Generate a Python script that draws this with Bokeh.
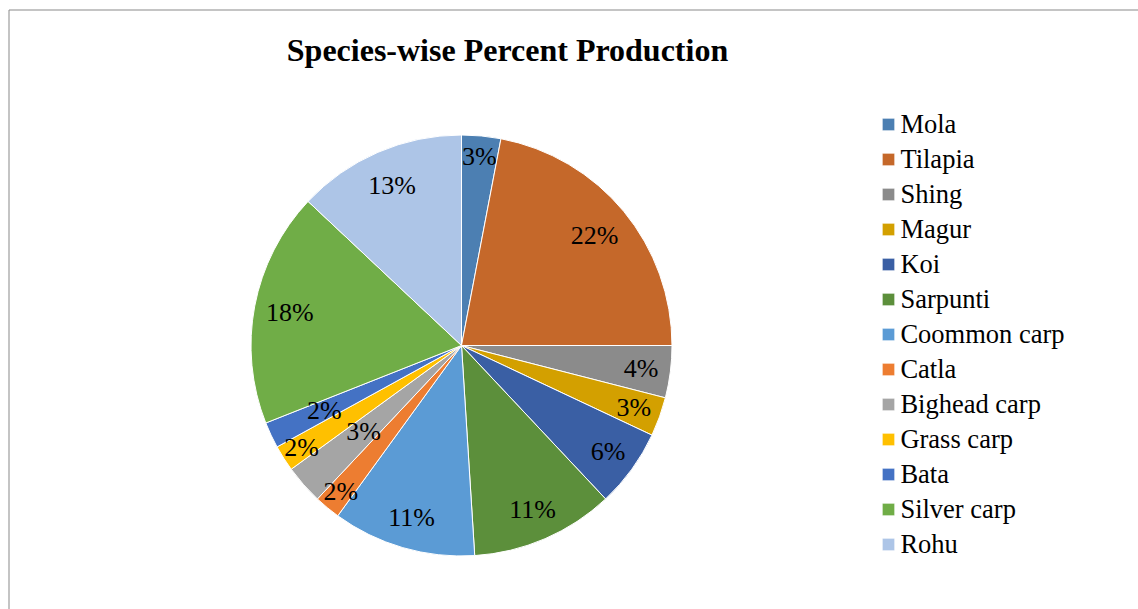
import math

from bokeh.core.properties import value
from bokeh.embed import file_html
from bokeh.models import BoxAnnotation, ColumnDataSource, Label, Range1d
from bokeh.plotting import figure
from bokeh.resources import INLINE

# Species-wise share of total production (percent)
species = [
    "Mola", "Tilapia", "Shing", "Magur", "Koi", "Sarpunti", "Coommon carp",
    "Catla", "Bighead carp", "Grass carp", "Bata", "Silver carp", "Rohu",
]
percent = [3, 22, 4, 3, 6, 11, 11, 2, 3, 2, 2, 18, 13]

colors = [
    "#4c7fb2", "#c5682a", "#8b8b8b", "#d3a000", "#3a5fa4", "#5c8f3b", "#5b9bd5",
    "#ed7d31", "#a5a5a5", "#ffc000", "#4472c4", "#70ad47", "#adc5e7",
]
# how far out (as a share of the radius) each percentage label sits
label_reach = [0.90, 0.82, 0.86, 0.87, 0.86, 0.85, 0.85, 0.90, 0.62, 0.90, 0.72, 0.83, 0.83]

W, H = 1138, 609
CX, CY, R = 461, H - 345, 210.5
SERIF = "Liberation Serif"

total = sum(percent)
start, end, lx, ly, text = [], [], [], [], []
acc = 0.0
for v, f in zip(percent, label_reach):
    a0 = math.pi / 2 - 2 * math.pi * acc / total
    a1 = math.pi / 2 - 2 * math.pi * (acc + v) / total
    mid = (a0 + a1) / 2
    start.append(a0)
    end.append(a1)
    lx.append(CX + f * R * math.cos(mid))
    ly.append(CY + f * R * math.sin(mid))
    text.append(f"{v}%")
    acc += v

src = ColumnDataSource(dict(
    species=species, percent=percent, color=colors,
    start=start, end=end, lx=lx, ly=ly, text=text,
))

p = figure(
    width=W, height=H, x_range=Range1d(0, W), y_range=Range1d(0, H),
    output_backend="svg", toolbar_location=None, min_border=0,
)
p.axis.visible = False
p.grid.visible = False
p.outline_line_color = None
p.background_fill_color = "white"
p.border_fill_color = "white"

# chart-area frame
p.add_layout(BoxAnnotation(
    left=8.5, right=W + 200, bottom=-200, top=H - 9.5,
    fill_color=None, fill_alpha=0, line_color="#898989", line_alpha=1, line_width=1,
))

p.wedge(
    x=CX, y=CY, radius=R, start_angle="start", end_angle="end",
    direction="clock", fill_color="color", line_color="white", line_width=1,
    legend_field="species", source=src,
)

p.text(
    x="lx", y="ly", text="text", source=src,
    text_font=value(SERIF), text_font_size=value("26px"), text_color="black",
    text_align="center", text_baseline="middle",
)

p.add_layout(Label(
    x=507, y=H - 49.8, text="Species-wise Percent Production",
    text_font=SERIF, text_font_size="32px", text_font_style="bold",
    text_color="black", text_align="center", text_baseline="middle",
))

leg = p.legend[0]
leg.location = (880.4, 47.5)
leg.border_line_color = None
leg.background_fill_alpha = 0
leg.padding = 0
leg.margin = 0
leg.spacing = 0
leg.glyph_width = 16
leg.glyph_height = 16
leg.label_height = 35
leg.label_standoff = 4
leg.label_text_font = SERIF
leg.label_text_font_size = "26.5px"
leg.label_text_color = "black"

open("out.html", "w").write(file_html(p, INLINE))
